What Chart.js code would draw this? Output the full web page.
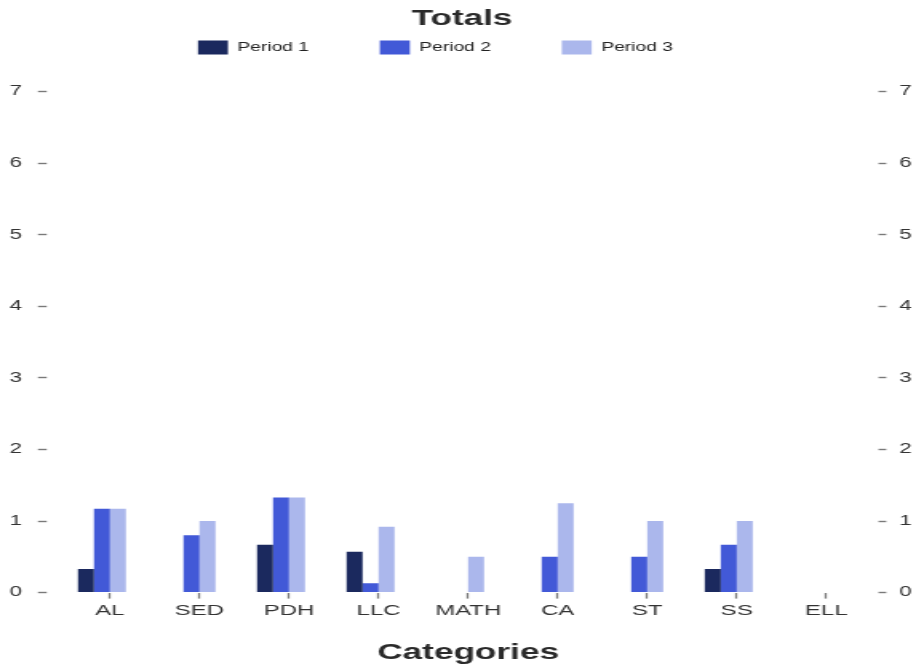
<!DOCTYPE html>
<html>
<head>
<meta charset="utf-8">
<title>Totals</title>
<script src="https://cdn.jsdelivr.net/npm/chart.js@4"></script>
<style>
    html, body { margin: 0; padding: 0; background: #fff; overflow: hidden; }
    /* chart is drawn narrow, then widened to the page */
    #wrap { width: 578px; height: 664px; transform: scaleX(1.5986); transform-origin: 0 0; }
</style>
</head>
<body>
<div id="wrap"><canvas id="totalsChart" width="578" height="664"></canvas></div>
<script>
const categories = ['AL', 'SED', 'PDH', 'LLC', 'MATH', 'CA', 'ST', 'SS', 'ELL'];
const period1 = [0.33, 0, 0.67, 0.57, 0, 0, 0, 0.33, 0];
const period2 = [1.17, 0.8, 1.33, 0.13, 0, 0.5, 0.5, 0.67, 0];
const period3 = [1.17, 1, 1.33, 0.92, 0.5, 1.25, 1, 1, 0];
const period4 = [0, 0, 0, 0, 0, 0, 0, 0, 0];
const yTicks = { min: 0, max: 7.38, step: 1 };

Chart.defaults.font.family = '"Liberation Sans", Arial, sans-serif';

const tickColor = '#7a7a7a';
const labelColor = '#333';

const ctx = document.getElementById('totalsChart').getContext('2d');
new Chart(ctx, {
    type: 'bar',
    data: {
        labels: categories,
        datasets: [
            { label: 'Period 1', data: period1, backgroundColor: '#1b295e' },
            { label: 'Period 2', data: period2, backgroundColor: '#4259d7' },
            { label: 'Period 3', data: period3, backgroundColor: '#abb7ec' },
            { label: 'Period 4', data: period4, backgroundColor: '#d5dbf5' }
        ]
    },
    options: {
        responsive: false,
        animation: false,
        datasets: {
            bar: { barPercentage: 1, categoryPercentage: 0.714, borderWidth: 0 }
        },
        layout: { padding: 0 },
        plugins: {
            title: {
                display: true,
                text: 'Totals',
                color: '#2a2a2a',
                font: { size: 22, weight: 'bold' },
                padding: { top: 6, bottom: -3 }
            },
            legend: {
                display: true,
                labels: {
                    boxWidth: 18.75,
                    boxHeight: 14,
                    padding: 11,
                    color: '#222',
                    font: { size: 12 },
                    filter: item => item.datasetIndex < 3,
                    // extra room after each label text
                    generateLabels: chart =>
                        Chart.defaults.plugins.legend.labels.generateLabels(chart)
                            .map(item => ({ ...item, text: item.text + ' '.repeat(10) }))
                }
            },
            tooltip: { enabled: false }
        },
        scales: {
            x: {
                offset: true,
                border: { display: false },
                grid: {
                    offset: false,
                    drawOnChartArea: false,
                    tickLength: 6,
                    tickWidth: 1.3,
                    color: tickColor
                },
                ticks: { color: labelColor, font: { size: 15 }, padding: 3 },
                title: {
                    display: true,
                    text: 'Categories',
                    color: '#2a2a2a',
                    font: { size: 22, weight: 'bold' },
                    padding: { top: 17, bottom: -2 }
                }
            },
            y: {
                position: 'left',
                min: yTicks.min,
                max: yTicks.max,
                bounds: 'data',
                border: { display: false },
                afterFit: scale => { scale.width = 40.75; },
                grid: {
                    drawOnChartArea: false,
                    tickLength: 17,
                    tickWidth: 1.4,
                    tickBorderDash: [5.5, 12],
                    color: tickColor
                },
                ticks: { stepSize: yTicks.step, includeBounds: false, color: labelColor, font: { size: 14 }, padding: 10 }
            },
            y2: {
                position: 'right',
                min: yTicks.min,
                max: yTicks.max,
                bounds: 'data',
                border: { display: false },
                afterFit: scale => { scale.width = 33.1; },
                grid: {
                    drawOnChartArea: false,
                    tickLength: 9.5,
                    tickWidth: 1.4,
                    tickBorderDash: [5, 4.5],
                    tickBorderDashOffset: 5,
                    color: tickColor
                },
                ticks: { stepSize: yTicks.step, includeBounds: false, color: labelColor, font: { size: 14 }, padding: 8 }
            }
        }
    }
});
</script>
</body>
</html>
